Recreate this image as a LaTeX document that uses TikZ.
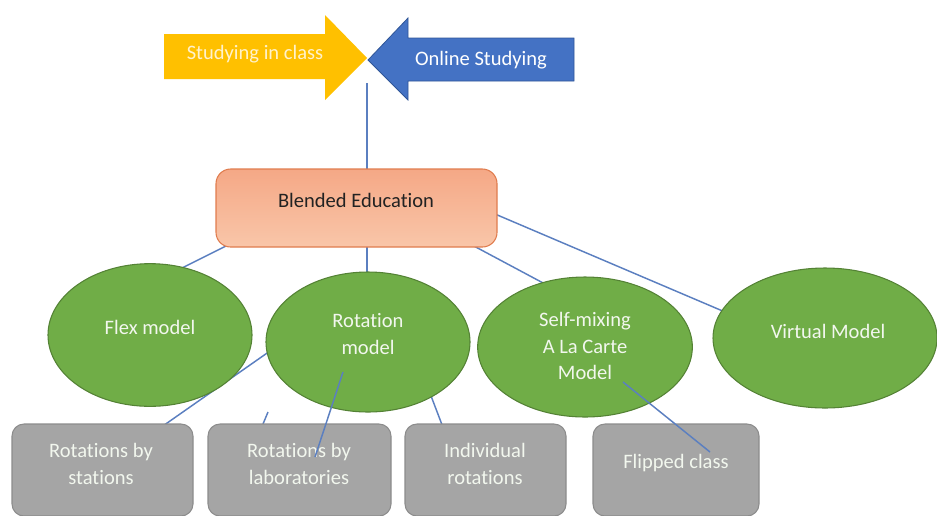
\documentclass[tikz,border=0pt]{standalone}
\usepackage{fontspec}
\setmainfont{Carlito}[Ligatures=NoCommon]
\usetikzlibrary{shapes.geometric}
\definecolor{ylw}{HTML}{FFC000}
\definecolor{ylwd}{HTML}{E8AE00}
\definecolor{blu}{HTML}{4472C4}
\definecolor{blud}{HTML}{2F5597}
\definecolor{grn}{HTML}{70AD47}
\definecolor{grnd}{HTML}{548235}
\definecolor{gry}{HTML}{A5A5A5}
\definecolor{gryd}{HTML}{8C8C8C}
\definecolor{sal1}{HTML}{F5A886}
\definecolor{sal2}{HTML}{F9C6A9}
\definecolor{sald}{HTML}{E07C4E}
\definecolor{conn}{HTML}{5B7FC0}
\definecolor{txtd}{HTML}{222222}
\definecolor{txtl}{HTML}{F2F7EE}
\definecolor{txty}{HTML}{FFF2CC}
\begin{document}
\begin{tikzpicture}[x=0.75pt,y=-0.75pt,
  every node/.style={font=\fontsize{15.4pt}{20pt}\selectfont, inner sep=0pt, align=center},
  conline/.style={draw=conn, line width=1.1pt},
  oval/.style={ellipse, fill=grn, draw=grnd, line width=0.8pt},
  graybox/.style={rectangle, rounded corners=9pt, fill=gry, draw=gryd, line width=0.8pt},
  lbl/.style={text=txtl}
]
\useasboundingbox (0,0) rectangle (937,515);

% named connector end points
\coordinate (tipbase) at (367,83);
\coordinate (b1) at (228,245);
\coordinate (f1) at (180,269);
\coordinate (b2) at (367,245);
\coordinate (r1) at (367,278);
\coordinate (b3) at (472,245);
\coordinate (s1) at (545,284);
\coordinate (b4) at (495,214);
\coordinate (v1) at (725,312);
\coordinate (r2) at (280,344);
\coordinate (q1) at (160,428);
\coordinate (r3) at (428,388);
\coordinate (q3) at (444,430);
\coordinate (st1) at (263,424);
\coordinate (st2) at (268,412);
\coordinate (r4) at (343,372);
\coordinate (q2) at (315,457);
\coordinate (s2) at (623,382);
\coordinate (q4) at (710,452);

% connectors beneath the shapes
\draw[conline] (tipbase) -- (367,175);
\draw[conline] (b1) -- (f1);
\draw[conline] (b2) -- (r1);
\draw[conline] (b3) -- (s1);
\draw[conline] (b4) -- (v1);
\draw[conline] (r2) -- (q1);
\draw[conline] (r3) -- (q3);
\draw[conline] (st1) -- (st2);

% arrows
\fill[ylw] (164,34) -- (325,34) -- (325,15) -- (367,58) -- (325,100) -- (325,79) -- (164,79) -- cycle;
\node[text=txty] (inclass) at (255,54) {Studying in class};
\filldraw[fill=blu, draw=blud, line width=0.6pt] (574,38) -- (408,38) -- (408,18) -- (368,60) -- (408,100) -- (408,81) -- (574,81) -- cycle;
\node[text=white] (online) at (481,60) {Online Studying};

% blended education box
\node[rectangle, rounded corners=11pt, top color=sal1, bottom color=sal2, draw=sald, line width=0.8pt,
      minimum width=210.75pt, minimum height=58.5pt] (blend) at (356.5,208) {};
\node[text=txtd] (blendt) at (356,200) {Blended Education};

% ellipses
\node[oval, minimum width=153pt, minimum height=107pt] (flex) at (150,335) {};
\node[oval, minimum width=153pt, minimum height=105pt] (rot) at (368,342) {};
\node[oval, minimum width=161pt, minimum height=105pt] (self) at (585,347) {};
\node[oval, minimum width=168pt, minimum height=105pt] (virt) at (825,338) {};
\node[lbl] (flext) at (150,327) {Flex model};
\node[lbl] (rott) at (368,334) {Rotation\\model};
\node[lbl] (selft) at (585,346) {Self-mixing\\A La Carte\\Model};
\node[lbl] (virtt) at (828,331) {Virtual Model};

% gray boxes
\node[graybox, minimum width=135.75pt, minimum height=69pt] (g1) at (102.5,470) {};
\node[graybox, minimum width=137.25pt, minimum height=69pt] (g2) at (299.5,470) {};
\node[graybox, minimum width=120.75pt, minimum height=69pt] (g3) at (485.5,470) {};
\node[graybox, minimum width=124.5pt, minimum height=69pt] (g4) at (676,470) {};
\node[lbl] (g1t) at (101,464) {Rotations by\\stations};
\node[lbl] (g2t) at (299,464) {Rotations by\\laboratories};
\node[lbl] (g3t) at (485,464) {Individual\\rotations};
\node[lbl] (g4t) at (676,463) {Flipped class};

% connectors drawn over the shapes
\draw[conline] (r4) -- (q2);
\draw[conline] (s2) -- (q4);
\end{tikzpicture}
\end{document}
